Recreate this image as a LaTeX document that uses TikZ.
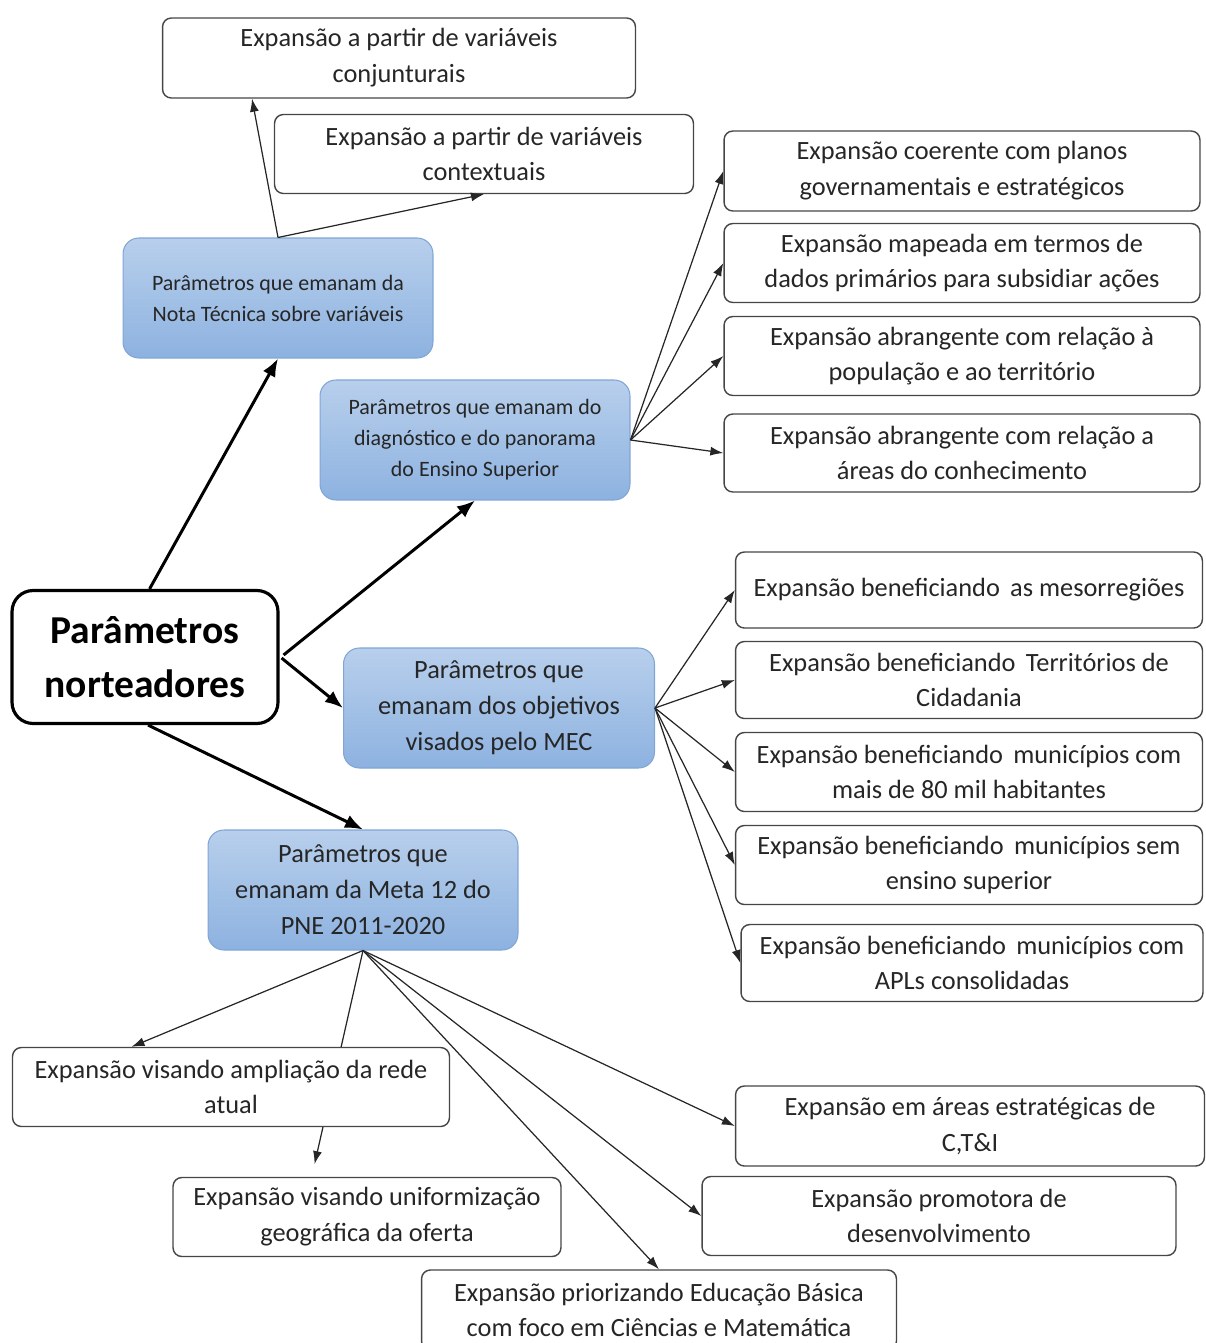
\documentclass[tikz,border=0pt]{standalone}
\usepackage{fontspec}
\setmainfont{Carlito}
\usepackage{tikz}
\usetikzlibrary{arrows.meta,backgrounds}
\definecolor{ptop}{RGB}{184,207,236}
\definecolor{pbot}{RGB}{141,178,224}
\definecolor{pline}{RGB}{128,166,214}
\definecolor{pgray}{RGB}{70,70,70}
\tikzset{
  expbox/.style ={rectangle, rounded corners=5pt, draw=pgray, line width=0.8pt,
                  fill=white, align=center, inner sep=2pt,
                  font=\fontsize{15}{20.4}\selectfont, text=black!85},
  parbox/.style ={rectangle, rounded corners=9pt, draw=pline, line width=0.6pt,
                  top color=ptop, bottom color=pbot, align=center, inner sep=2pt,
                  font=\fontsize{12.5}{17.6}\selectfont, text=black!85},
  bigpar/.style ={parbox, font=\fontsize{15}{20.4}\selectfont},
  rootbox/.style={rectangle, rounded corners=12pt, draw=black, line width=1.8pt,
                  fill=white, align=center, font=\fontsize{22.5}{30.6}\selectfont\bfseries},
  thk/.style    ={-{Latex[length=3.6mm,width=2.8mm]}, line width=1.7pt},
  thn/.style    ={-{Latex[length=2.6mm,width=1.8mm]}, line width=0.7pt, draw=black!85}
}
\begin{document}
\begin{tikzpicture}[x=0.02cm, y=-0.02cm]
\clip (0,0) rectangle (1205,1343);
% root
\node[rootbox, minimum width=5.32cm, minimum height=2.66cm] (root) at (145,657)
  {Parâmetros\\norteadores};
% blue parameter boxes
\node[parbox, minimum width=6.2cm, minimum height=2.4cm] (nota) at (278,298)
  {Parâmetros que emanam da\\Nota Técnica sobre variáveis};
\node[parbox, minimum width=6.2cm, minimum height=2.4cm] (diag) at (475,440)
  {Parâmetros que emanam do\\diagnóstico e do panorama\\do Ensino Superior};
\node[bigpar, minimum width=6.22cm, minimum height=2.4cm] (mec) at (499,708)
  {Parâmetros que\\emanam dos objetivos\\visados pelo MEC};
\node[bigpar, minimum width=6.2cm, minimum height=2.4cm] (pne) at (363,890)
  {Parâmetros que\\emanam da Meta 12 do\\PNE 2011-2020};
% Nota Tecnica
\node[expbox, minimum width=9.46cm, minimum height=1.6cm] (conj) at (399,58)
  {Expansão a partir de variáveis\\conjunturais};
\node[expbox, minimum width=8.38cm, minimum height=1.58cm] (cont) at (484,154)
  {Expansão a partir de variáveis\\contextuais};
% diagnostico
\node[expbox, minimum width=9.52cm, minimum height=1.6cm] (coer) at (962,171)
  {Expansão coerente com planos\\governamentais e estratégicos};
\node[expbox, minimum width=9.52cm, minimum height=1.58cm] (mape) at (962,263)
  {Expansão mapeada em termos de\\dados primários para subsidiar ações};
\node[expbox, minimum width=9.52cm, minimum height=1.58cm] (popu) at (962,356)
  {Expansão abrangente com relação à\\população e ao território};
\node[expbox, minimum width=9.52cm, minimum height=1.56cm] (area) at (962,453)
  {Expansão abrangente com relação a\\áreas do conhecimento};
% MEC
\node[expbox, minimum width=9.34cm, minimum height=1.52cm] (meso) at (969,590)
  {Expansão beneficiando\, as mesorregiões};
\node[expbox, minimum width=9.34cm, minimum height=1.54cm] (terr) at (969,680)
  {Expansão beneficiando\, Territórios de\\Cidadania};
\node[expbox, minimum width=9.34cm, minimum height=1.58cm] (hab) at (969,772)
  {Expansão beneficiando\, municípios com\\mais de 80 mil habitantes};
\node[expbox, minimum width=9.34cm, minimum height=1.58cm] (sem) at (969,865)
  {Expansão beneficiando\, municípios sem\\ensino superior};
\node[expbox, minimum width=9.24cm, minimum height=1.54cm] (apl) at (972,963)
  {Expansão beneficiando\, municípios com\\APLs consolidadas};
% PNE
\node[expbox, minimum width=8.74cm, minimum height=1.58cm] (ampl) at (231,1087)
  {Expansão visando ampliação da rede\\atual};
\node[expbox, minimum width=7.76cm, minimum height=1.58cm] (unif) at (367,1217)
  {Expansão visando uniformização\\geográfica da oferta};
\node[expbox, minimum width=9.38cm, minimum height=1.6cm] (cti) at (970,1126)
  {Expansão em áreas estratégicas de\\C,T\&I};
\node[expbox, minimum width=9.48cm, minimum height=1.58cm] (prom) at (939,1216)
  {Expansão promotora de\\desenvolvimento};
\node[expbox, minimum width=9.5cm, minimum height=1.6cm] (prio) at (659,1310)
  {Expansão priorizando Educação Básica\\com foco em Ciências e Matemática};
% connectors
\draw[thk] (root.north east) ++(-130,0) coordinate (r1) -- (nota.south);
\draw[thk] (root.east) ++(4,-2) coordinate (r2) -- (diag.south);
\draw[thk] (r2) ++(-2,3) coordinate (r3) -- (mec.west);
\draw[thk] (root.south) ++(3,0) coordinate (r4) -- (pne.north);
\draw[thn] (nota.north) -- (conj.south west -| 252,0);
\draw[thn] (nota.north) -- (cont.south);
\foreach \t in {coer,mape,popu,area}
  \draw[thn] (diag.east) -- (\t.west);
\foreach \t in {meso,terr,hab,sem,apl}
  \draw[thn] (mec.east) -- (\t.west);
\draw[thn] (pne.south) -- (ampl.158);
\draw[thn] (pne.south) -- (prio.north);
\draw[thn] (pne.south) -- (prom.west);
\draw[thn] (pne.south) -- (cti.west);
\begin{scope}[on background layer]
\draw[thn, shorten >=0.26cm] (pne.south) -- (unif.144);
\end{scope}
\end{tikzpicture}
\end{document}
